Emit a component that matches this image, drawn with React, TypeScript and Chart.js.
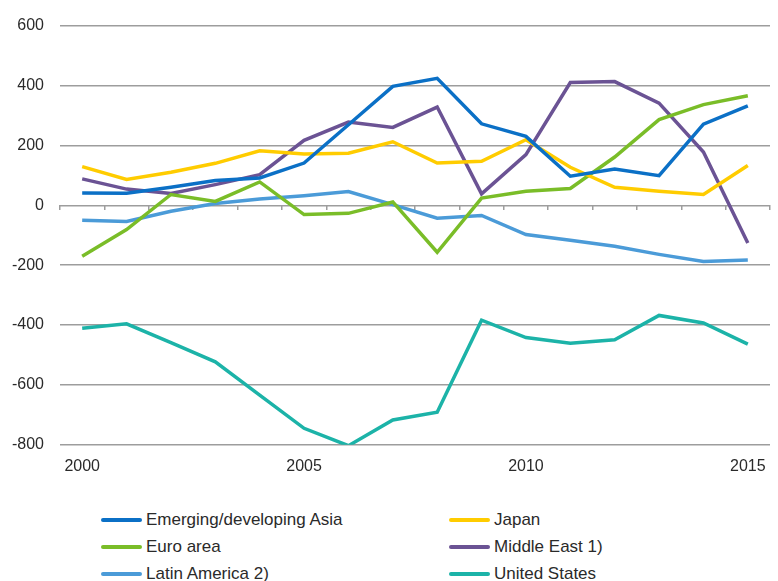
import React, { useEffect, useRef } from 'react';
import { Chart, registerables } from 'chart.js';

Chart.register(...registerables);

const years = ['2000', '2001', '2002', '2003', '2004', '2005', '2006', '2007', '2008', '2009', '2010', '2011', '2012', '2013', '2014', '2015'];

const emergingAsia = [41, 40, 60, 83, 91, 141, 269, 397, 424, 272, 230, 97, 121, 99, 271, 332];
const japan = [129, 86, 110, 140, 182, 171, 174, 212, 141, 147, 219, 127, 60, 47, 36, 133];
const euroArea = [-170, -81, 36, 13, 78, -31, -27, 11, -157, 24, 47, 56, 161, 286, 336, 366];
const middleEast = [88, 54, 39, 69, 102, 217, 278, 260, 328, 38, 169, 410, 413, 341, 178, -126];
const latinAmerica = [-50, -54, -20, 6, 21, 32, 46, 2, -43, -34, -98, -117, -137, -164, -188, -183];
const unitedStates = [-411, -396, -459, -523, -634, -745, -803, -717, -691, -384, -442, -461, -449, -368, -393, -464];

const yTicks = [-800, -600, -400, -200, 0, 200, 400, 600];
const shownYears = ['2000', '2005', '2010', '2015'];

const seriesNames = ['Emerging/developing Asia', 'Japan', 'Euro area', 'Middle East 1)', 'Latin America 2)', 'United States'];
const seriesColors = ['#0B70C6', '#FFCC00', '#7ABD28', '#6B5394', '#4B9BD8', '#1CB3A8'];
const seriesValues = [emergingAsia, japan, euroArea, middleEast, latinAmerica, unitedStates];

const FONT = '"Liberation Sans", Arial, Helvetica, sans-serif';
const TEXT = '#2a2a2a';
const GRID = '#9d9d9d';

export default function App() {
  const ref = useRef<HTMLCanvasElement | null>(null);

  useEffect(() => {
    if (!ref.current) return;
    const chart = new Chart(ref.current, {
      type: 'line',
      data: {
        labels: years,
        datasets: seriesNames.map((name, i) => ({
          label: name,
          data: seriesValues[i],
          borderColor: seriesColors[i],
          backgroundColor: seriesColors[i],
          borderWidth: 3.5,
          pointRadius: 0,
          pointHoverRadius: 0,
          tension: 0,
          fill: false,
        })),
      },
      options: {
        responsive: false,
        animation: false,
        layout: { padding: { top: 23, right: 8, bottom: 2, left: 0 } },
        plugins: {
          legend: { display: false },
          tooltip: { enabled: false },
        },
        scales: {
          x: {
            type: 'category',
            offset: true,
            grid: { display: false, drawTicks: false, offset: true },
            border: { display: false },
            ticks: {
              autoSkip: false,
              maxRotation: 0,
              padding: 12,
              color: TEXT,
              font: { family: FONT, size: 16 },
              callback: (_v: any, idx: number) => (shownYears.includes(years[idx]) ? years[idx] : ''),
            },
          },
          x2: {
            type: 'category',
            axis: 'x',
            position: { y: 0 },
            offset: true,
            grid: {
              display: true,
              offset: true,
              drawOnChartArea: false,
              drawTicks: true,
              tickLength: 5,
              color: GRID,
              lineWidth: 1.5,
            },
            border: { display: false },
            ticks: { display: false },
          },
          y: {
            min: -800,
            max: 600,
            afterFit: (scale: any) => {
              scale.width = 60;
            },
            afterBuildTicks: (scale: any) => {
              scale.ticks = yTicks.map((v) => ({ value: v }));
            },
            grid: { color: GRID, lineWidth: 1.5, drawTicks: false },
            border: { display: false },
            ticks: {
              padding: 16,
              color: TEXT,
              font: { family: FONT, size: 16 },
            },
          },
        },
      } as any,
    });
    return () => chart.destroy();
  }, []);

  const legendCols = [
    { line: 101, text: 146 },
    { line: 449, text: 494 },
  ];
  const rowCenters = [520, 547, 574];

  return (
    <div style={{ position: 'absolute', left: 0, top: 0, width: 778, height: 581, background: '#fff', overflow: 'hidden' }}>
      <canvas ref={ref} width={778} height={490} style={{ position: 'absolute', left: 0, top: 0, width: 778, height: 490 }} />
      {seriesNames.map((name, i) => {
        const col = legendCols[i % 2];
        const cy = rowCenters[Math.floor(i / 2)];
        return (
          <React.Fragment key={name}>
            <div
              style={{
                position: 'absolute',
                left: col.line,
                top: cy - 2,
                width: col.text - col.line - 4,
                height: 4,
                borderRadius: 2,
                background: seriesColors[i],
              }}
            />
            <div
              style={{
                position: 'absolute',
                left: col.text,
                top: cy - 11,
                height: 22,
                lineHeight: '22px',
                fontFamily: FONT,
                fontSize: 17,
                color: TEXT,
                whiteSpace: 'nowrap',
              }}
            >
              {name}
            </div>
          </React.Fragment>
        );
      })}
    </div>
  );
}
